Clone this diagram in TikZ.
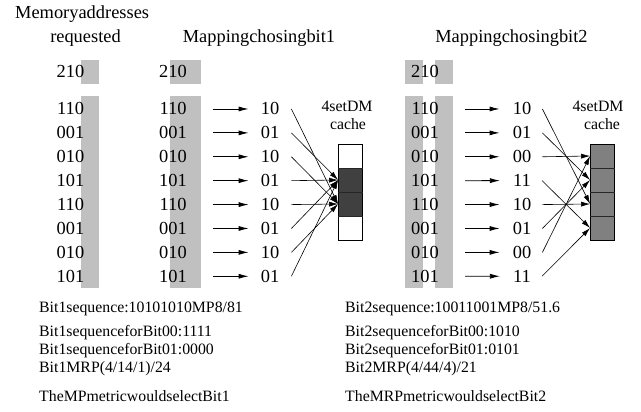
\documentclass[tikz,border=0pt]{standalone}
\usepackage{fontspec}
\setmainfont{Liberation Serif}
\usetikzlibrary{arrows.meta}
\definecolor{barcol}{HTML}{C0C0C0}
\definecolor{darkcell}{HTML}{404040}
\definecolor{midcell}{HTML}{808080}
\begin{document}
\begin{tikzpicture}[x=1pt,y=-1pt,
  big/.style={font=\fontsize{18.4}{22}\selectfont, inner sep=0pt, anchor=base},
  small/.style={font=\fontsize{15.8}{19}\selectfont, inner sep=0pt, anchor=base west},
  cachelabel/.style={font=\fontsize{15.8}{19}\selectfont, inner sep=0pt, anchor=base},
  bar/.style={fill=barcol, draw=none},
  cellA/.style={draw=black, line width=0.8pt, fill=white, minimum width=24pt, minimum height=24pt, inner sep=0pt},
  cellB/.style={cellA, fill=darkcell},
  cellC/.style={cellA, fill=midcell},
  maparrow/.style={line width=0.8pt, -{Latex[length=10pt,width=5pt]}},
  wire/.style={line width=0.6pt, -{Latex[length=9pt,width=5pt]}},
  divider/.style={line width=1.6pt, draw=black!85}
]
\useasboundingbox (0,0) rectangle (641,412);

% grey bars
\fill[bar] (81,60) rectangle (99,84);
\fill[bar] (170,60) rectangle (201,84);
\fill[bar] (405,60) rectangle (423,84);
\fill[bar] (435,60) rectangle (453,84);
\fill[bar] (81,96) rectangle (99,288);
\fill[bar] (170,96) rectangle (201,288);
\fill[bar] (405,96) rectangle (423,288);
\fill[bar] (435,96) rectangle (453,288);

% headers
\node[big, anchor=base west] (hmem) at (15,18.3) {Memoryaddresses};
\node[big] (hreq) at (85.5,42.3) {requested};
\node[big] (hm1) at (259,42.3) {Mappingchosingbit1};
\node[big] (hm2) at (511.5,42.3) {Mappingchosingbit2};

\node[big] (ta) at (70.5,77.3) {210};
\node[big] (tb) at (173,77.3) {210};
\node[big] (td) at (425,77.3) {210};

% cache 1
\node[cellA] (p1) at (350.5,156) {};
\node[cellB] (p2) at (350.5,180) {};
\node[cellB] (p3) at (350.5,204) {};
\node[cellA] (p4) at (350.5,228) {};
\draw[divider] (p1.south west) -- (p1.south east);
\draw[divider] (p2.south west) -- (p2.south east);
\draw[divider] (p3.south west) -- (p3.south east);
\node[cachelabel] (k1a) at (347,111.7) {4setDM};
\node[cachelabel] (k1b) at (348,130) {cache};

% cache 2
\node[cellC] (q1) at (602.5,156) {};
\node[cellC] (q2) at (602.5,180) {};
\node[cellC] (q3) at (602.5,204) {};
\node[cellC] (q4) at (602.5,228) {};
\draw[divider] (q1.south west) -- (q1.south east);
\draw[divider] (q2.south west) -- (q2.south east);
\draw[divider] (q3.south west) -- (q3.south east);
\node[cachelabel] (k2a) at (598,111.7) {4setDM};
\node[cachelabel] (k2b) at (602,130) {cache};

% rows
\foreach \k/\addr/\la/\ta/\lb/\tb in {
  1/110/10/3/10/3,
  2/001/01/2/01/2,
  3/010/10/3/00/1,
  4/101/01/2/11/4,
  5/110/10/3/10/3,
  6/001/01/2/01/2,
  7/010/10/3/00/1,
  8/101/01/2/11/4}{
  \pgfmathsetmacro{\yy}{115+23.9*(\k-1)}
  \node[big] (a\k) at (70.5,\yy) {\addr};
  \node[big] (b\k) at (173,\yy) {\addr};
  \node[big] (d\k) at (425,\yy) {\addr};
  \node[big] (l\k) at (270,\yy) {\la};
  \node[big] (r\k) at (522,\yy) {\lb};
  \draw[maparrow] ([xshift=26pt]b\k.east) -- ([xshift=-12pt]l\k.west);
  \draw[maparrow] ([xshift=26pt]d\k.east) -- ([xshift=-13pt]r\k.west);
  \draw[wire] ([xshift=12pt]l\k.east) -- (p\ta.west);
  \draw[wire] ([xshift=11pt]r\k.east) -- (q\tb.west);
}

% bottom texts
\node[small] (s1) at (39,312.3) {Bit1sequence:10101010MP8/81};
\node[small] (s2) at (39,336) {Bit1sequenceforBit00:1111};
\node[small] (s3) at (39,354.2) {Bit1sequenceforBit01:0000};
\node[small] (s4) at (39,372.3) {Bit1MRP(4/14/1)/24};
\node[small] (s5) at (39,401.7) {TheMPmetricwouldselectBit1};
\node[small] (u1) at (345,312.3) {Bit2sequence:10011001MP8/51.6};
\node[small] (u2) at (345,336) {Bit2sequenceforBit00:1010};
\node[small] (u3) at (345,354.2) {Bit2sequenceforBit01:0101};
\node[small] (u4) at (345,372.3) {Bit2MRP(4/44/4)/21};
\node[small] (u5) at (345,401.7) {TheMRPmetricwouldselectBit2};
\end{tikzpicture}
\end{document}
